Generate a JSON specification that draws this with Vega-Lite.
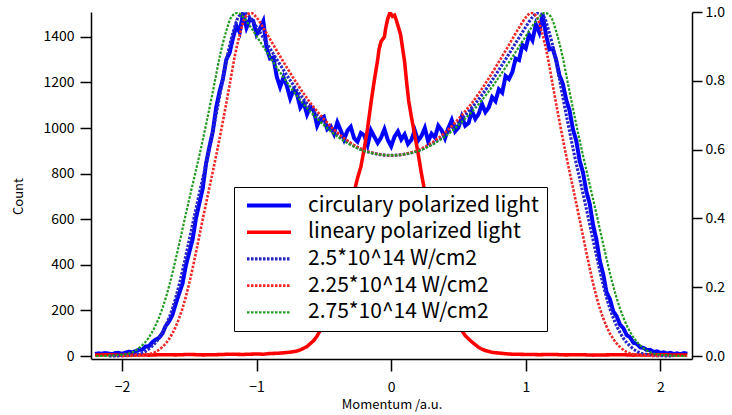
{
  "$schema": "https://vega.github.io/schema/vega-lite/v6.json",
  "width": 601,
  "height": 347,
  "autosize": "none",
  "padding": {"left": 91, "top": 12, "right": 40, "bottom": 56},
  "background": "white",
  "config": {
    "view": {"stroke": null},
    "font": "Noto Sans CJK JP",
    "axis": {
      "grid": false,
      "domainColor": "black",
      "domainWidth": 1.5,
      "tickColor": "black",
      "tickWidth": 1.5,
      "labelColor": "black",
      "titleColor": "black",
      "labelFont": "Noto Sans CJK JP",
      "titleFont": "Noto Sans CJK JP",
      "labelFontSize": 14,
      "titleFontSize": 13,
      "titleFontWeight": "normal"
    }
  },
  "data": {
    "values": [
      {"s":"c","x":-2.2,"y":9},{"s":"c","x":-2.175,"y":12},{"s":"c","x":-2.15,"y":10},{"s":"c","x":-2.125,"y":13},{"s":"c","x":-2.1,"y":11},{"s":"c","x":-2.075,"y":8},{"s":"c","x":-2.05,"y":13},{"s":"c","x":-2.025,"y":14},{"s":"c","x":-2.0,"y":10},{"s":"c","x":-1.975,"y":15},{"s":"c","x":-1.95,"y":19},{"s":"c","x":-1.925,"y":16},{"s":"c","x":-1.9,"y":21},{"s":"c","x":-1.875,"y":27},{"s":"c","x":-1.85,"y":28},{"s":"c","x":-1.825,"y":42},{"s":"c","x":-1.8,"y":43},{"s":"c","x":-1.775,"y":60},{"s":"c","x":-1.75,"y":72},{"s":"c","x":-1.725,"y":80},{"s":"c","x":-1.7,"y":98},{"s":"c","x":-1.675,"y":132},{"s":"c","x":-1.65,"y":152},{"s":"c","x":-1.625,"y":180},{"s":"c","x":-1.6,"y":230},{"s":"c","x":-1.575,"y":275},{"s":"c","x":-1.55,"y":318},{"s":"c","x":-1.525,"y":398},{"s":"c","x":-1.5,"y":455},{"s":"c","x":-1.475,"y":512},{"s":"c","x":-1.45,"y":605},{"s":"c","x":-1.425,"y":670},{"s":"c","x":-1.4,"y":735},{"s":"c","x":-1.375,"y":845},{"s":"c","x":-1.35,"y":918},{"s":"c","x":-1.325,"y":985},{"s":"c","x":-1.3,"y":1090},{"s":"c","x":-1.275,"y":1160},{"s":"c","x":-1.25,"y":1215},{"s":"c","x":-1.225,"y":1300},{"s":"c","x":-1.2,"y":1330},{"s":"c","x":-1.175,"y":1395},{"s":"c","x":-1.15,"y":1450},{"s":"c","x":-1.125,"y":1420},{"s":"c","x":-1.1,"y":1505},{"s":"c","x":-1.075,"y":1440},{"s":"c","x":-1.05,"y":1478},{"s":"c","x":-1.025,"y":1470},{"s":"c","x":-1.0,"y":1410},{"s":"c","x":-0.975,"y":1435},{"s":"c","x":-0.95,"y":1468},{"s":"c","x":-0.925,"y":1350},{"s":"c","x":-0.9,"y":1305},{"s":"c","x":-0.875,"y":1310},{"s":"c","x":-0.85,"y":1225},{"s":"c","x":-0.825,"y":1180},{"s":"c","x":-0.8,"y":1222},{"s":"c","x":-0.775,"y":1185},{"s":"c","x":-0.75,"y":1130},{"s":"c","x":-0.725,"y":1168},{"s":"c","x":-0.7,"y":1150},{"s":"c","x":-0.675,"y":1090},{"s":"c","x":-0.65,"y":1112},{"s":"c","x":-0.625,"y":1060},{"s":"c","x":-0.6,"y":1095},{"s":"c","x":-0.575,"y":1078},{"s":"c","x":-0.55,"y":1010},{"s":"c","x":-0.525,"y":1042},{"s":"c","x":-0.5,"y":1050},{"s":"c","x":-0.475,"y":995},{"s":"c","x":-0.45,"y":1008},{"s":"c","x":-0.425,"y":975},{"s":"c","x":-0.4,"y":1025},{"s":"c","x":-0.375,"y":990},{"s":"c","x":-0.35,"y":950},{"s":"c","x":-0.325,"y":988},{"s":"c","x":-0.3,"y":1005},{"s":"c","x":-0.275,"y":955},{"s":"c","x":-0.25,"y":940},{"s":"c","x":-0.225,"y":978},{"s":"c","x":-0.2,"y":968},{"s":"c","x":-0.175,"y":925},{"s":"c","x":-0.15,"y":990},{"s":"c","x":-0.125,"y":962},{"s":"c","x":-0.1,"y":935},{"s":"c","x":-0.075,"y":958},{"s":"c","x":-0.05,"y":995},{"s":"c","x":-0.025,"y":948},{"s":"c","x":0,"y":920},{"s":"c","x":0.025,"y":962},{"s":"c","x":0.05,"y":985},{"s":"c","x":0.075,"y":950},{"s":"c","x":0.1,"y":972},{"s":"c","x":0.125,"y":930},{"s":"c","x":0.15,"y":948},{"s":"c","x":0.175,"y":990},{"s":"c","x":0.2,"y":945},{"s":"c","x":0.225,"y":965},{"s":"c","x":0.25,"y":1000},{"s":"c","x":0.275,"y":942},{"s":"c","x":0.3,"y":975},{"s":"c","x":0.325,"y":958},{"s":"c","x":0.35,"y":1010},{"s":"c","x":0.375,"y":990},{"s":"c","x":0.4,"y":955},{"s":"c","x":0.425,"y":1000},{"s":"c","x":0.45,"y":1035},{"s":"c","x":0.475,"y":985},{"s":"c","x":0.5,"y":1002},{"s":"c","x":0.525,"y":1050},{"s":"c","x":0.55,"y":1010},{"s":"c","x":0.575,"y":1022},{"s":"c","x":0.6,"y":1075},{"s":"c","x":0.625,"y":1040},{"s":"c","x":0.65,"y":1062},{"s":"c","x":0.675,"y":1105},{"s":"c","x":0.7,"y":1070},{"s":"c","x":0.725,"y":1090},{"s":"c","x":0.75,"y":1135},{"s":"c","x":0.775,"y":1118},{"s":"c","x":0.8,"y":1170},{"s":"c","x":0.825,"y":1155},{"s":"c","x":0.85,"y":1228},{"s":"c","x":0.875,"y":1215},{"s":"c","x":0.9,"y":1245},{"s":"c","x":0.925,"y":1305},{"s":"c","x":0.95,"y":1298},{"s":"c","x":0.975,"y":1365},{"s":"c","x":1.0,"y":1350},{"s":"c","x":1.025,"y":1410},{"s":"c","x":1.05,"y":1385},{"s":"c","x":1.075,"y":1455},{"s":"c","x":1.1,"y":1420},{"s":"c","x":1.125,"y":1500},{"s":"c","x":1.15,"y":1410},{"s":"c","x":1.175,"y":1345},{"s":"c","x":1.2,"y":1350},{"s":"c","x":1.225,"y":1300},{"s":"c","x":1.25,"y":1232},{"s":"c","x":1.275,"y":1195},{"s":"c","x":1.3,"y":1125},{"s":"c","x":1.325,"y":1078},{"s":"c","x":1.35,"y":995},{"s":"c","x":1.375,"y":945},{"s":"c","x":1.4,"y":858},{"s":"c","x":1.425,"y":805},{"s":"c","x":1.45,"y":722},{"s":"c","x":1.475,"y":668},{"s":"c","x":1.5,"y":575},{"s":"c","x":1.525,"y":510},{"s":"c","x":1.55,"y":418},{"s":"c","x":1.575,"y":360},{"s":"c","x":1.6,"y":280},{"s":"c","x":1.625,"y":250},{"s":"c","x":1.65,"y":196},{"s":"c","x":1.675,"y":175},{"s":"c","x":1.7,"y":138},{"s":"c","x":1.725,"y":122},{"s":"c","x":1.75,"y":92},{"s":"c","x":1.775,"y":82},{"s":"c","x":1.8,"y":58},{"s":"c","x":1.825,"y":54},{"s":"c","x":1.85,"y":38},{"s":"c","x":1.875,"y":36},{"s":"c","x":1.9,"y":26},{"s":"c","x":1.925,"y":27},{"s":"c","x":1.95,"y":18},{"s":"c","x":1.975,"y":21},{"s":"c","x":2.0,"y":14},{"s":"c","x":2.025,"y":16},{"s":"c","x":2.05,"y":11},{"s":"c","x":2.075,"y":14},{"s":"c","x":2.1,"y":9},{"s":"c","x":2.125,"y":12},{"s":"c","x":2.15,"y":8},{"s":"c","x":2.175,"y":13},{"s":"c","x":2.2,"y":10},

      {"s":"l","x":-2.2,"y":4},{"s":"l","x":-2.1,"y":6},{"s":"l","x":-2.0,"y":3},{"s":"l","x":-1.9,"y":5},{"s":"l","x":-1.8,"y":4},{"s":"l","x":-1.7,"y":6},{"s":"l","x":-1.6,"y":5},{"s":"l","x":-1.5,"y":7},{"s":"l","x":-1.4,"y":5},{"s":"l","x":-1.3,"y":6},{"s":"l","x":-1.2,"y":8},{"s":"l","x":-1.1,"y":7},{"s":"l","x":-1.0,"y":9},{"s":"l","x":-0.95,"y":8},{"s":"l","x":-0.9,"y":11},{"s":"l","x":-0.85,"y":12},{"s":"l","x":-0.8,"y":14},{"s":"l","x":-0.75,"y":17},{"s":"l","x":-0.7,"y":22},{"s":"l","x":-0.675,"y":27},{"s":"l","x":-0.65,"y":34},{"s":"l","x":-0.625,"y":42},{"s":"l","x":-0.6,"y":55},{"s":"l","x":-0.575,"y":68},{"s":"l","x":-0.55,"y":88},{"s":"l","x":-0.525,"y":115},{"s":"l","x":-0.5,"y":150},{"s":"l","x":-0.475,"y":190},{"s":"l","x":-0.45,"y":240},{"s":"l","x":-0.425,"y":295},{"s":"l","x":-0.4,"y":360},{"s":"l","x":-0.375,"y":430},{"s":"l","x":-0.35,"y":500},{"s":"l","x":-0.325,"y":580},{"s":"l","x":-0.3,"y":650},{"s":"l","x":-0.275,"y":720},{"s":"l","x":-0.25,"y":780},{"s":"l","x":-0.225,"y":830},{"s":"l","x":-0.2,"y":910},{"s":"l","x":-0.175,"y":1000},{"s":"l","x":-0.15,"y":1110},{"s":"l","x":-0.125,"y":1210},{"s":"l","x":-0.1,"y":1300},{"s":"l","x":-0.09,"y":1345},{"s":"l","x":-0.075,"y":1380},{"s":"l","x":-0.05,"y":1400},{"s":"l","x":-0.04,"y":1440},{"s":"l","x":-0.025,"y":1480},{"s":"l","x":-0.01,"y":1505},{"s":"l","x":0,"y":1500},{"s":"l","x":0.01,"y":1490},{"s":"l","x":0.025,"y":1495},{"s":"l","x":0.04,"y":1470},{"s":"l","x":0.055,"y":1440},{"s":"l","x":0.07,"y":1410},{"s":"l","x":0.085,"y":1350},{"s":"l","x":0.1,"y":1290},{"s":"l","x":0.115,"y":1200},{"s":"l","x":0.13,"y":1120},{"s":"l","x":0.15,"y":1050},{"s":"l","x":0.175,"y":970},{"s":"l","x":0.2,"y":890},{"s":"l","x":0.225,"y":800},{"s":"l","x":0.25,"y":720},{"s":"l","x":0.275,"y":650},{"s":"l","x":0.3,"y":580},{"s":"l","x":0.325,"y":510},{"s":"l","x":0.35,"y":440},{"s":"l","x":0.375,"y":375},{"s":"l","x":0.4,"y":315},{"s":"l","x":0.425,"y":260},{"s":"l","x":0.45,"y":210},{"s":"l","x":0.475,"y":170},{"s":"l","x":0.5,"y":140},{"s":"l","x":0.525,"y":112},{"s":"l","x":0.55,"y":90},{"s":"l","x":0.575,"y":75},{"s":"l","x":0.6,"y":62},{"s":"l","x":0.625,"y":50},{"s":"l","x":0.65,"y":38},{"s":"l","x":0.675,"y":30},{"s":"l","x":0.7,"y":24},{"s":"l","x":0.75,"y":16},{"s":"l","x":0.8,"y":13},{"s":"l","x":0.85,"y":10},{"s":"l","x":0.9,"y":8},{"s":"l","x":1.0,"y":7},{"s":"l","x":1.1,"y":6},{"s":"l","x":1.2,"y":7},{"s":"l","x":1.3,"y":5},{"s":"l","x":1.4,"y":6},{"s":"l","x":1.5,"y":4},{"s":"l","x":1.6,"y":5},{"s":"l","x":1.7,"y":6},{"s":"l","x":1.8,"y":4},{"s":"l","x":1.9,"y":5},{"s":"l","x":2.0,"y":6},{"s":"l","x":2.1,"y":4},{"s":"l","x":2.2,"y":5},

      {"s":"b","x":-2.096,"y":0},{"s":"b","x":-1.991,"y":2},{"s":"b","x":-1.886,"y":8},{"s":"b","x":-1.834,"y":18},{"s":"b","x":-1.782,"y":40},{"s":"b","x":-1.729,"y":75},{"s":"b","x":-1.677,"y":130},{"s":"b","x":-1.624,"y":210},{"s":"b","x":-1.572,"y":320},{"s":"b","x":-1.52,"y":455},{"s":"b","x":-1.467,"y":600},{"s":"b","x":-1.415,"y":740},{"s":"b","x":-1.362,"y":880},{"s":"b","x":-1.31,"y":1030},{"s":"b","x":-1.258,"y":1190},{"s":"b","x":-1.216,"y":1320},{"s":"b","x":-1.174,"y":1420},{"s":"b","x":-1.132,"y":1490},{"s":"b","x":-1.09,"y":1505},{"s":"b","x":-1.048,"y":1485},{"s":"b","x":-0.996,"y":1440},{"s":"b","x":-0.943,"y":1390},{"s":"b","x":-0.838,"y":1290},{"s":"b","x":-0.734,"y":1195},{"s":"b","x":-0.629,"y":1110},{"s":"b","x":-0.524,"y":1040},{"s":"b","x":-0.419,"y":980},{"s":"b","x":-0.314,"y":935},{"s":"b","x":-0.21,"y":903},{"s":"b","x":-0.105,"y":886},{"s":"b","x":0,"y":880},{"s":"b","x":0.105,"y":886},{"s":"b","x":0.21,"y":903},{"s":"b","x":0.314,"y":935},{"s":"b","x":0.419,"y":980},{"s":"b","x":0.524,"y":1040},{"s":"b","x":0.629,"y":1110},{"s":"b","x":0.734,"y":1195},{"s":"b","x":0.838,"y":1290},{"s":"b","x":0.943,"y":1390},{"s":"b","x":0.996,"y":1440},{"s":"b","x":1.048,"y":1485},{"s":"b","x":1.09,"y":1505},{"s":"b","x":1.132,"y":1490},{"s":"b","x":1.174,"y":1420},{"s":"b","x":1.216,"y":1320},{"s":"b","x":1.258,"y":1190},{"s":"b","x":1.31,"y":1030},{"s":"b","x":1.362,"y":880},{"s":"b","x":1.415,"y":740},{"s":"b","x":1.467,"y":600},{"s":"b","x":1.52,"y":455},{"s":"b","x":1.572,"y":320},{"s":"b","x":1.624,"y":210},{"s":"b","x":1.677,"y":130},{"s":"b","x":1.729,"y":75},{"s":"b","x":1.782,"y":40},{"s":"b","x":1.834,"y":18},{"s":"b","x":1.886,"y":8},{"s":"b","x":1.991,"y":2},{"s":"b","x":2.096,"y":0},

      {"s":"r","x":-2.0,"y":0},{"s":"r","x":-1.9,"y":2},{"s":"r","x":-1.8,"y":8},{"s":"r","x":-1.75,"y":18},{"s":"r","x":-1.7,"y":40},{"s":"r","x":-1.65,"y":75},{"s":"r","x":-1.6,"y":130},{"s":"r","x":-1.55,"y":210},{"s":"r","x":-1.5,"y":320},{"s":"r","x":-1.45,"y":455},{"s":"r","x":-1.4,"y":600},{"s":"r","x":-1.35,"y":740},{"s":"r","x":-1.3,"y":880},{"s":"r","x":-1.25,"y":1030},{"s":"r","x":-1.2,"y":1190},{"s":"r","x":-1.16,"y":1320},{"s":"r","x":-1.12,"y":1420},{"s":"r","x":-1.08,"y":1490},{"s":"r","x":-1.04,"y":1505},{"s":"r","x":-1.0,"y":1485},{"s":"r","x":-0.95,"y":1440},{"s":"r","x":-0.9,"y":1390},{"s":"r","x":-0.8,"y":1290},{"s":"r","x":-0.7,"y":1195},{"s":"r","x":-0.6,"y":1110},{"s":"r","x":-0.5,"y":1040},{"s":"r","x":-0.4,"y":980},{"s":"r","x":-0.3,"y":935},{"s":"r","x":-0.2,"y":903},{"s":"r","x":-0.1,"y":886},{"s":"r","x":0,"y":880},{"s":"r","x":0.1,"y":886},{"s":"r","x":0.2,"y":903},{"s":"r","x":0.3,"y":935},{"s":"r","x":0.4,"y":980},{"s":"r","x":0.5,"y":1040},{"s":"r","x":0.6,"y":1110},{"s":"r","x":0.7,"y":1195},{"s":"r","x":0.8,"y":1290},{"s":"r","x":0.9,"y":1390},{"s":"r","x":0.95,"y":1440},{"s":"r","x":1.0,"y":1485},{"s":"r","x":1.04,"y":1505},{"s":"r","x":1.08,"y":1490},{"s":"r","x":1.12,"y":1420},{"s":"r","x":1.16,"y":1320},{"s":"r","x":1.2,"y":1190},{"s":"r","x":1.25,"y":1030},{"s":"r","x":1.3,"y":880},{"s":"r","x":1.35,"y":740},{"s":"r","x":1.4,"y":600},{"s":"r","x":1.45,"y":455},{"s":"r","x":1.5,"y":320},{"s":"r","x":1.55,"y":210},{"s":"r","x":1.6,"y":130},{"s":"r","x":1.65,"y":75},{"s":"r","x":1.7,"y":40},{"s":"r","x":1.75,"y":18},{"s":"r","x":1.8,"y":8},{"s":"r","x":1.9,"y":2},{"s":"r","x":2.0,"y":0},

      {"s":"g","x":-2.192,"y":0},{"s":"g","x":-2.082,"y":2},{"s":"g","x":-1.973,"y":8},{"s":"g","x":-1.918,"y":18},{"s":"g","x":-1.863,"y":40},{"s":"g","x":-1.808,"y":75},{"s":"g","x":-1.754,"y":130},{"s":"g","x":-1.699,"y":210},{"s":"g","x":-1.644,"y":320},{"s":"g","x":-1.589,"y":455},{"s":"g","x":-1.534,"y":600},{"s":"g","x":-1.48,"y":740},{"s":"g","x":-1.425,"y":880},{"s":"g","x":-1.37,"y":1030},{"s":"g","x":-1.315,"y":1190},{"s":"g","x":-1.271,"y":1320},{"s":"g","x":-1.228,"y":1420},{"s":"g","x":-1.184,"y":1490},{"s":"g","x":-1.14,"y":1505},{"s":"g","x":-1.096,"y":1485},{"s":"g","x":-1.041,"y":1440},{"s":"g","x":-0.986,"y":1390},{"s":"g","x":-0.877,"y":1290},{"s":"g","x":-0.767,"y":1195},{"s":"g","x":-0.658,"y":1110},{"s":"g","x":-0.548,"y":1040},{"s":"g","x":-0.438,"y":980},{"s":"g","x":-0.329,"y":935},{"s":"g","x":-0.219,"y":903},{"s":"g","x":-0.11,"y":886},{"s":"g","x":0,"y":880},{"s":"g","x":0.11,"y":886},{"s":"g","x":0.219,"y":903},{"s":"g","x":0.329,"y":935},{"s":"g","x":0.438,"y":980},{"s":"g","x":0.548,"y":1040},{"s":"g","x":0.658,"y":1110},{"s":"g","x":0.767,"y":1195},{"s":"g","x":0.877,"y":1290},{"s":"g","x":0.986,"y":1390},{"s":"g","x":1.041,"y":1440},{"s":"g","x":1.096,"y":1485},{"s":"g","x":1.14,"y":1505},{"s":"g","x":1.184,"y":1490},{"s":"g","x":1.228,"y":1420},{"s":"g","x":1.271,"y":1320},{"s":"g","x":1.315,"y":1190},{"s":"g","x":1.37,"y":1030},{"s":"g","x":1.425,"y":880},{"s":"g","x":1.48,"y":740},{"s":"g","x":1.534,"y":600},{"s":"g","x":1.589,"y":455},{"s":"g","x":1.644,"y":320},{"s":"g","x":1.699,"y":210},{"s":"g","x":1.754,"y":130},{"s":"g","x":1.808,"y":75},{"s":"g","x":1.863,"y":40},{"s":"g","x":1.918,"y":18},{"s":"g","x":1.973,"y":8},{"s":"g","x":2.082,"y":2},{"s":"g","x":2.192,"y":0}
    ]
  },
  "encoding": {
    "x": {
      "field": "x",
      "type": "quantitative",
      "scale": {"domain": [-2.23, 2.235], "nice": false, "zero": false},
      "axis": {
        "title": "Momentum /a.u.",
        "values": [-2, -1, 0, 1, 2],
        "tickSize": 12,
        "labelPadding": 9,
        "titlePadding": 4
      }
    },
    "color": {
      "field": "s",
      "type": "nominal",
      "scale": {
        "domain": ["c", "l", "b", "r", "g"],
        "range": ["#0000ff", "#ff0000", "#2424c8", "#f02828", "#1f9a1f"]
      },
      "legend": {
        "title": null,
        "orient": "none",
        "legendX": 143,
        "legendY": 175,
        "padding": 8,
        "rowPadding": 4.7,
        "labelFontSize": 21,
        "labelFont": "Noto Sans CJK JP",
        "labelColor": "black",
        "labelLimit": 400,
        "labelOffset": 45,
        "symbolType": "M-1,0H7",
        "symbolSize": 121,
        "strokeColor": "black",
        "fillColor": "white",
        "labelExpr": "{'c': 'circulary polarized light', 'l': 'lineary polarized light', 'b': '2.5*10^14 W/cm2', 'r': '2.25*10^14 W/cm2', 'g': '\u00a02.75*10^14 W/cm2'}[datum.label]"
      }
    },
    "strokeDash": {
      "field": "s",
      "type": "nominal",
      "scale": {
        "domain": ["c", "l", "b", "r", "g"],
        "range": [[1, 0], [1, 0], [2.5, 1.5], [2.5, 1.5], [2.5, 1.5]]
      },
      "legend": null
    },
    "strokeWidth": {
      "field": "s",
      "type": "nominal",
      "scale": {
        "domain": ["c", "l", "b", "r", "g"],
        "range": [4, 2.2, 3.5, 3.5, 3.5]
      },
      "legend": null
    }
  },
  "layer": [
    {
      "transform": [{"filter": {"field": "s", "oneOf": ["c", "l"]}}],
      "mark": {"type": "line", "clip": true},
      "encoding": {
        "y": {
          "field": "y",
          "type": "quantitative",
          "scale": {"domain": [-13, 1509], "nice": false, "zero": false},
          "axis": {
            "title": "Count",
            "orient": "left",
            "format": "d",
            "values": [0, 200, 400, 600, 800, 1000, 1200, 1400],
            "tickSize": 11,
            "labelPadding": 6,
            "titleX": -73,
            "titleY": 184,
            "titleAngle": -90,
            "titleAlign": "center",
            "titleBaseline": "middle"
          }
        }
      }
    },
    {
      "transform": [{"filter": {"field": "s", "oneOf": ["b", "r", "g"]}}],
      "mark": {"type": "line", "interpolate": "monotone", "clip": true},
      "encoding": {
        "y": {
          "field": "y",
          "type": "quantitative",
          "scale": {"domain": [-13, 1509], "nice": false, "zero": false},
          "axis": {
            "title": null,
            "orient": "right",
            "values": [0, 301.8, 603.6, 905.4, 1207.2, 1509],
            "labelExpr": "format(datum.value / 1509, '.1f')",
            "tickSize": 10,
            "labelPadding": 3
          }
        }
      }
    }
  ],
  "resolve": {"axis": {"y": "independent"}}
}
